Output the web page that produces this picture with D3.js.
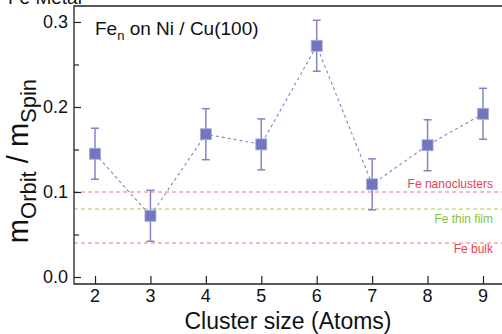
<!DOCTYPE html>
<html><head><meta charset="utf-8">
<script src="https://cdn.jsdelivr.net/npm/d3@7"></script>
<style>
html,body{margin:0;padding:0;background:#fff;}
svg{display:block;font-family:"Liberation Sans",Arial,sans-serif;}
</style></head>
<body>
<svg id="c" width="502" height="334"></svg>
<script>
// ---- data ----
const clusterSizes = [2, 3, 4, 5, 6, 7, 8, 9];
const ratioValues  = [0.145, 0.072, 0.168, 0.156, 0.272, 0.109, 0.155, 0.192];
const ratioErrors  = [0.03, 0.03, 0.03, 0.03, 0.03, 0.03, 0.03, 0.03];
const xTickValues  = [2, 3, 4, 5, 6, 7, 8, 9];
const yTickValues  = [0.0, 0.1, 0.2, 0.3];
const yMinorTicks  = [0.05, 0.15, 0.25];
const refValues    = [0.1, 0.08, 0.04];
const refLabels    = ["Fe nanoclusters", "Fe thin film", "Fe bulk"];
const refKinds     = ["red", "green", "red"];

const svg = d3.select("#c");
const L = 74, R = 502, T = 6, B = 284;
const x = d3.scaleLinear().domain([1.621, 9.343]).range([L, R]);
const y = d3.scaleLinear().domain([-0.00824, 0.3188]).range([B, T]);

const lineCol = {red: "#ec7a80", green: "#9fd255"};
const textCol = {red: "#e8414e", green: "#84c43e"};
const labelY = [188, 223, 253];

// reference lines
refValues.forEach((v, i) => {
  svg.append("line")
    .attr("x1", L).attr("x2", R)
    .attr("y1", y(v)).attr("y2", y(v))
    .attr("stroke", lineCol[refKinds[i]]).attr("stroke-width", 1.2)
    .attr("stroke-dasharray", "4,3");
  svg.append("text")
    .attr("x", 493).attr("y", labelY[i])
    .attr("text-anchor", "end")
    .attr("font-size", 12)
    .attr("fill", textCol[refKinds[i]])
    .text(refLabels[i]);
});

// axes frame
const axCol = "#222";
svg.append("path")
  .attr("d", `M${R},${T}H${L}V${B}H${R}`)
  .attr("fill", "none").attr("stroke", axCol).attr("stroke-width", 1.3);

// y axis ticks (inward)
const yAxis = d3.axisRight(y).tickValues(yTickValues).tickSize(7).tickFormat("");
const gy = svg.append("g").attr("transform", `translate(${L},0)`).call(yAxis);
gy.select(".domain").remove();
gy.selectAll("line").attr("stroke", axCol).attr("stroke-width", 1.2);
const yMinor = d3.axisRight(y).tickValues(yMinorTicks).tickSize(5).tickFormat("");
const gym = svg.append("g").attr("transform", `translate(${L},0)`).call(yMinor);
gym.select(".domain").remove();
gym.selectAll("line").attr("stroke", axCol).attr("stroke-width", 1.2);
// y tick labels
svg.append("g").selectAll("text").data(yTickValues).join("text")
  .attr("x", 68).attr("y", d => y(d)).attr("dy", "0.33em")
  .attr("text-anchor", "end").attr("font-size", 18).attr("fill", "#111")
  .text(d => d3.format(".1f")(d));

// x axis ticks (inward)
const xAxis = d3.axisTop(x).tickValues(xTickValues).tickSize(8).tickFormat("");
const gx = svg.append("g").attr("transform", `translate(0,${B})`).call(xAxis);
gx.select(".domain").remove();
gx.selectAll("line").attr("stroke", axCol).attr("stroke-width", 1.2);
svg.append("g").selectAll("text").data(xTickValues).join("text")
  .attr("x", d => x(d)).attr("y", 302)
  .attr("text-anchor", "middle").attr("font-size", 18).attr("fill", "#111")
  .text(d => d);

// axis titles
svg.append("text").attr("x", (L + R) / 2).attr("y", 329)
  .attr("text-anchor", "middle").attr("font-size", 23).attr("fill", "#111")
  .text("Cluster size (Atoms)");

const yt = svg.append("text")
  .attr("transform", "translate(28,161) rotate(-90)")
  .attr("text-anchor", "middle").attr("font-size", 29).attr("fill", "#111");
yt.append("tspan").text("m");
yt.append("tspan").attr("font-size", 22).attr("dy", 8).text("Orbit");
yt.append("tspan").attr("dy", -8).text(" / m");
yt.append("tspan").attr("font-size", 22).attr("dy", 8).text("Spin");

// top-left cut-off title
svg.append("text").attr("x", 8).attr("y", 4).attr("font-size", 19).attr("fill", "#111")
  .text("Fe Metal");

// legend text
const lg = svg.append("text").attr("x", 95).attr("y", 35).attr("font-size", 19).attr("fill", "#111");
lg.append("tspan").text("Fe");
lg.append("tspan").attr("font-size", 13).attr("dy", 5).text("n");
lg.append("tspan").attr("dy", -5).text(" on Ni / Cu(100)");

// data
const pts = clusterSizes.map((s, i) => ({s, v: ratioValues[i], e: ratioErrors[i]}));
const dataCol = "#7276bf";
svg.append("path").datum(pts)
  .attr("d", d3.line().x(d => x(d.s)).y(d => y(d.v)))
  .attr("fill", "none").attr("stroke", "#7f83c7").attr("stroke-width", 1.1)
  .attr("stroke-dasharray", "3,3");

const eb = svg.append("g").attr("stroke", "#8185c8").attr("stroke-width", 1.5);
pts.forEach(d => {
  const cx = x(d.s);
  eb.append("line").attr("x1", cx).attr("x2", cx).attr("y1", y(d.v - d.e)).attr("y2", y(d.v + d.e));
  eb.append("line").attr("x1", cx - 4).attr("x2", cx + 4).attr("y1", y(d.v - d.e)).attr("y2", y(d.v - d.e));
  eb.append("line").attr("x1", cx - 4).attr("x2", cx + 4).attr("y1", y(d.v + d.e)).attr("y2", y(d.v + d.e));
});

svg.append("g").selectAll("rect").data(pts).join("rect")
  .attr("x", d => x(d.s) - 5.5).attr("y", d => y(d.v) - 5.5)
  .attr("width", 11).attr("height", 11)
  .attr("fill", dataCol).attr("stroke", "#a9acd9").attr("stroke-width", 0.8);
</script>
</body></html>
